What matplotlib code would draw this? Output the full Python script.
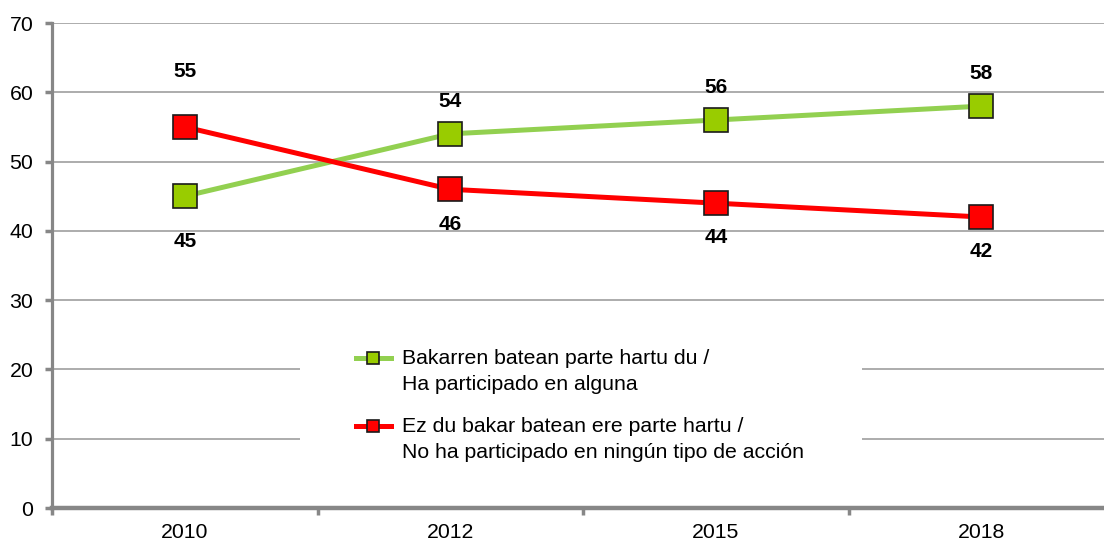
import matplotlib.pyplot as plt
from matplotlib.patches import Rectangle

plt.rcParams['font.family'] = ['Liberation Sans', 'DejaVu Sans']

years = ['2010', '2012', '2015', '2018']
participated = [45, 54, 56, 58]
not_participated = [55, 46, 44, 42]
label_participated = 'Bakarren batean parte hartu du /\nHa participado en alguna'
label_not = 'Ez du bakar batean ere parte hartu /\nNo ha participado en ningún tipo de acción'

green_line = '#92D050'
green_mark = '#99CC00'
red = '#FF0000'
axis_gray = '#878787'

W, H = 1104, 545
fig = plt.figure(figsize=(W / 100, H / 100), dpi=100)
ax = fig.add_axes([52 / W, 1 - 508 / H, 1062 / W, 485 / H])

x = list(range(len(years)))
ax.plot(x, participated, color=green_line, lw=3.6, marker='s', ms=17,
        mfc=green_mark, mec='#1a1a1a', mew=1.2, label=label_participated, zorder=4)
ax.plot(x, not_participated, color=red, lw=3.6, marker='s', ms=17,
        mfc=red, mec='#1a1a1a', mew=1.2, label=label_not, zorder=4)

# value labels: whichever series is on top gets its label above the marker
for i, v in enumerate(participated):
    dy = -32.5 if v < not_participated[i] else 23.5
    ax.annotate(str(v), (i, v), xytext=(0, dy), textcoords='offset points',
                ha='center', va='center', fontsize=15, fontweight='bold')
for i, v in enumerate(not_participated):
    dy = 40 if v > participated[i] else -25
    ax.annotate(str(v), (i, v), xytext=(0, dy), textcoords='offset points',
                ha='center', va='center', fontsize=15, fontweight='bold')

ax.set_xlim(-0.5, 3.5)
ax.set_ylim(0, 70)
ax.set_yticks(range(0, 71, 10))
ax.set_xticks(x)
ax.set_xticklabels(years)
ax.set_xticks([-0.5, 0.5, 1.5, 2.5], minor=True)
ax.tick_params(axis='x', which='major', length=0, pad=10.5, labelsize=15.3)
ax.tick_params(axis='x', which='minor', length=5, width=2.5, color=axis_gray, direction='out')
ax.tick_params(axis='y', length=5, width=2.5, color=axis_gray, direction='out',
               labelsize=15.3, pad=8.5)

ax.grid(axis='y', color='#A6A6A6', lw=1.3)
ax.set_axisbelow(True)
for side in ['top', 'right']:
    ax.spines[side].set_visible(False)
ax.spines['left'].set_color(axis_gray)
ax.spines['left'].set_linewidth(2.3)
ax.spines['bottom'].set_color(axis_gray)
ax.spines['bottom'].set_linewidth(3.2)
ax.spines['bottom'].set_zorder(5)

# white backing behind the legend
ax.add_patch(Rectangle((300 / W, 1 - 470 / H), 562 / W, 130 / H, transform=fig.transFigure,
                       facecolor='white', edgecolor='none', zorder=2))

leg = ax.legend(loc='upper left', bbox_to_anchor=(345 / W, 1 - 338 / H),
                bbox_transform=fig.transFigure, frameon=False, fontsize=15.3,
                handlelength=1.65, handletextpad=0.55, labelspacing=1.07,
                borderpad=0, markerscale=0.5)
for t in leg.get_texts():
    t.set_linespacing(1.5)
# put each handle level with the first line of its label
for line in leg.get_lines():
    line.set_ydata([y + 9.5 for y in line.get_ydata()])
leg.set_zorder(6)

fig.savefig('out.png', dpi=100)
